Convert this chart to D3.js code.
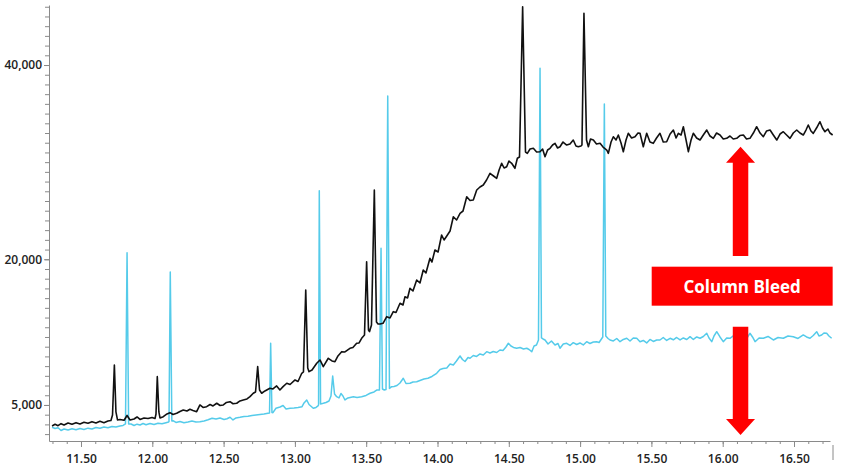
<!DOCTYPE html>
<html>
<head>
<meta charset="utf-8">
<script src="https://cdn.jsdelivr.net/npm/d3@7"></script>
<style>
  body { margin: 0; background: #fff; }
  svg { display: block; font-family: "Open Sans", sans-serif; }
</style>
</head>
<body>
<div id="chart"></div>
<script>
// retention time (min), abundance
const bleedTrace = [
  [11.297,2838],[11.318,3013],[11.339,2869],[11.360,3075],[11.381,2941],[11.409,3147],[11.437,3013],[11.465,3178],[11.493,3044],[11.521,3219],[11.549,3116],[11.577,3281],[11.605,3147],[11.633,3322],[11.661,3178],[11.689,3353],[11.710,3404],
  [11.721,3971],[11.734,9118],[11.745,4279],[11.756,3456],
  [11.773,3507],[11.802,3425],[11.823,3919],[11.844,3456],[11.872,3559],[11.893,3765],[11.914,3507],[11.942,3662],[11.970,3610],[11.998,3713],[12.019,3610],
  [12.026,4074],[12.035,7913],[12.046,4279],[12.054,3662],
  [12.077,3796],[12.103,4074],[12.124,4207],[12.145,4022],[12.171,4146],[12.194,4331],[12.217,4485],[12.243,4382],[12.264,4557],[12.285,4434],[12.311,4310],[12.334,5000],[12.356,4743],[12.381,4825],[12.405,5051],[12.426,4897],[12.452,5175],[12.475,4949],[12.498,5000],[12.520,5257],[12.545,5340],[12.566,5124],[12.592,5175],[12.615,5412],[12.638,5515],[12.664,5618],[12.685,5854],[12.708,6204],
  [12.724,6338],[12.739,8943],[12.752,6544],
  [12.767,6204],[12.790,6441],[12.825,6719],[12.846,6647],[12.872,6956],[12.895,6544],[12.917,6884],[12.943,7234],[12.966,7110],[13.001,7574],[13.022,7419],[13.048,8263],
  [13.060,8397],[13.076,16838],[13.090,8809],
  [13.099,8428],[13.120,8603],[13.153,9293],[13.176,9632],[13.199,8943],[13.234,9807],[13.260,9529],[13.281,9457],[13.302,10044],[13.328,10487],[13.351,10456],[13.386,10837],[13.407,10919],[13.433,11351],[13.450,11382],[13.468,11866],
  [13.488,12206],[13.503,19751],[13.516,12721],[13.523,12546],
  [13.537,13235],[13.557,27132],[13.572,13544],
  [13.583,13338],[13.597,13338],[13.618,13410],[13.644,14090],[13.667,13956],[13.690,14604],[13.709,14522],[13.737,15469],[13.758,15294],[13.772,16148],[13.790,16015],[13.807,17013],[13.828,16735],[13.854,17868],[13.877,17559],[13.900,18897],[13.919,18588],[13.947,20101],[13.961,19720],[13.982,20956],[14.004,20750],[14.029,22500],[14.046,21985],[14.065,22397],[14.088,22912],[14.111,24384],[14.134,24044],[14.158,24733],[14.179,24970],[14.205,26442],[14.228,26051],[14.251,26103],[14.275,27132],[14.298,27441],[14.321,27647],[14.344,28162],[14.368,28851],[14.393,28573],[14.415,28336],[14.432,29191],[14.450,29881],[14.467,29397],[14.485,29531],[14.501,30117],[14.520,29881],[14.543,29366],[14.560,30396],
  [14.575,30529],[14.597,46000],[14.617,31044],
  [14.630,30910],[14.649,31353],[14.672,31425],[14.695,31044],[14.719,31075],[14.737,31353],[14.754,30560],[14.772,31250],[14.789,31425],[14.807,31764],[14.824,31939],[14.842,31456],[14.859,31590],[14.880,32073],[14.906,31764],[14.929,31867],[14.952,32279],[14.971,31662],[14.987,31590],[15.006,31662],
  [15.013,31764],[15.027,45322],[15.045,32279],
  [15.058,31590],[15.073,32382],[15.093,32279],[15.115,31867],[15.140,31939],[15.161,31559],[15.187,31250],[15.198,30910],[15.217,32073],[15.233,32619],[15.252,32279],[15.268,32794],[15.287,31970],[15.303,31075],[15.322,32279],[15.338,32969],[15.361,32485],[15.385,32619],[15.406,33000],[15.420,32969],[15.443,31590],[15.467,32969],[15.490,32073],[15.513,31939],[15.536,32485],[15.560,32969],[15.583,32073],[15.607,32104],[15.631,32897],[15.654,33309],[15.673,32485],[15.689,32969],[15.708,32794],[15.724,33648],[15.743,32279],[15.759,31075],[15.778,32279],[15.794,32969],[15.817,32485],[15.841,32279],[15.864,32794],[15.888,33309],[15.911,32691],[15.934,32454],[15.957,33000],[15.981,32794],[16.004,32382],[16.028,32454],[16.051,32691],[16.074,32382],[16.098,32454],[16.121,32742],[16.145,32794],[16.167,32382],[16.191,32454],[16.215,33000],[16.238,33648],[16.262,33000],[16.285,32619],[16.307,33206],[16.332,33309],[16.355,32794],[16.379,32279],[16.402,32897],[16.425,33134],[16.448,32794],[16.472,32454],[16.495,33000],[16.519,33309],[16.542,33000],[16.565,32794],[16.584,33309],[16.600,33823],[16.619,33206],[16.635,32969],[16.658,33514],[16.682,34163],[16.700,33514],[16.717,33134],[16.738,33411],[16.752,33000],[16.771,32794]
];

const sampleTrace = [
  [11.297,2704],[11.318,2581],[11.339,2653],[11.360,2375],[11.381,2529],[11.409,2426],[11.437,2550],[11.465,2447],[11.493,2581],[11.521,2478],[11.549,2612],[11.577,2529],[11.605,2684],[11.633,2612],[11.661,2735],[11.689,2653],[11.717,2787],[11.745,2735],[11.773,2838],[11.795,2890],
  [11.812,3044],[11.823,20678],[11.834,3044],
  [11.851,3044],[11.872,2890],[11.893,3024],[11.914,2941],[11.935,3096],[11.956,2962],[11.984,3096],[12.012,2993],[12.040,3126],[12.068,3065],[12.096,3178],[12.114,3250],
  [12.117,3301],[12.126,18691],[12.137,3353],
  [12.145,3384],[12.166,3199],[12.194,3301],[12.222,3168],[12.250,3250],[12.278,3353],[12.306,3250],[12.334,3281],[12.363,3353],[12.391,3476],[12.419,3631],[12.447,3559],[12.475,3662],[12.503,3507],[12.524,3579],[12.545,3734],[12.566,3456],[12.587,3662],[12.615,3734],[12.643,3816],[12.671,3847],[12.699,3919],[12.727,3971],[12.755,4022],[12.783,4074],[12.811,4146],
  [12.822,4176],[12.830,11351],[12.839,4228],
  [12.846,4207],[12.867,4660],[12.896,4794],[12.917,4949],[12.938,4588],[12.966,4660],[12.994,4691],[13.022,4743],[13.050,4825],[13.064,5206],[13.083,5515],[13.099,5051],[13.129,4660],[13.148,4743],[13.162,4897],
  [13.166,5000],[13.171,27060],[13.180,5103],
  [13.199,5175],[13.218,5257],[13.239,5412],[13.253,5926],[13.265,7985],[13.278,6132],[13.293,5854],[13.309,5721],[13.323,6184],[13.337,5926],[13.351,5515],[13.372,5721],[13.410,5854],[13.436,5772],[13.468,5854],[13.499,5978],[13.527,6204],[13.555,6338],[13.576,6544],
  [13.593,6544],[13.604,21131],[13.614,6647],[13.627,6544],
  [13.639,6596],[13.651,36808],[13.663,6699],[13.679,6884],
  [13.695,6904],[13.716,7007],[13.737,7265],[13.760,7748],[13.779,7213],[13.807,7234],[13.828,7368],[13.854,7398],[13.877,7522],[13.905,7676],[13.933,7748],[13.961,7934],[13.994,8263],[14.018,8654],[14.039,8757],[14.065,8809],[14.088,9221],[14.111,9118],[14.133,9529],[14.158,10044],[14.175,9684],[14.193,9478],[14.214,9890],[14.228,9807],[14.251,10096],[14.274,9993],[14.298,10250],[14.321,10147],[14.345,10487],[14.368,10353],[14.391,10507],[14.415,10404],[14.438,10662],[14.459,10610],[14.480,10971],[14.497,11351],[14.515,11073],[14.533,10919],[14.555,10837],[14.579,10919],[14.603,10765],[14.626,10837],[14.642,10713],[14.661,10487],[14.677,11073],[14.694,11176],
  [14.708,11691],[14.719,39660],[14.729,11897],
  [14.740,11794],[14.754,11691],[14.775,11279],[14.799,11588],[14.824,11176],[14.845,11331],[14.859,10837],[14.882,11279],[14.906,11351],[14.929,11125],[14.952,11413],[14.976,11228],[14.999,11382],[15.022,11176],[15.046,11516],[15.069,11331],[15.093,11485],[15.116,11516],[15.133,11434],
  [15.159,12000],[15.170,35985],[15.180,12103],
  [15.196,11845],[15.210,11691],[15.233,11588],[15.257,11845],[15.280,11516],[15.303,11743],[15.327,11866],[15.350,11588],[15.373,11897],[15.397,11866],[15.420,11516],[15.443,11640],[15.467,11382],[15.490,11743],[15.513,11537],[15.537,11691],[15.560,11691],[15.583,11948],[15.607,11640],[15.631,11866],[15.654,11711],[15.677,11948],[15.701,11691],[15.724,11897],[15.748,11743],[15.771,12031],[15.794,11743],[15.818,12000],[15.841,11866],[15.864,12051],[15.888,12381],[15.904,11897],[15.923,11516],[15.939,12103],[15.958,12545],[15.981,12000],[16.004,11516],[16.028,11897],[16.051,11866],[16.074,12103],[16.098,11691],[16.121,11845],[16.145,12031],[16.168,11845],[16.191,12381],[16.209,12000],[16.227,11516],[16.255,11897],[16.285,11866],[16.318,12051],[16.355,11691],[16.388,11948],[16.425,11866],[16.458,12103],[16.495,12031],[16.528,11845],[16.565,12206],[16.588,12000],[16.612,11866],[16.635,12154],[16.659,12545],[16.675,12103],[16.694,12206],[16.710,12412],[16.729,12381],[16.745,12103],[16.764,11866]
];

const xLabelTicks = [11.5, 12.0, 12.5, 13.0, 13.5, 14.0, 14.5, 15.0, 15.5, 16.0, 16.5];
const xMinorTicks = d3.range(113, 168).map(k => k / 10);
const yLabelTicks = [5000, 20000, 40000];
const yMinorTicks = d3.range(2, 47).map(k => k * 1000);

// annotation, in data units
const bleedLabel = "Column Bleed";
const arrowTime = 16.125;

const width = 844, height = 471;
const margin = { top: 5, right: 14, bottom: 30, left: 49 };

const svg = d3.select("#chart")
  .append("svg")
  .attr("width", width)
  .attr("height", height);

const x = d3.scaleLinear()
  .domain([11.2756, 16.7524])
  .range([margin.left, width - margin.right]);

const y = d3.scaleLinear()
  .domain([1290, 46180])
  .range([height - margin.bottom, margin.top]);

const line = d3.line()
  .x(d => x(d[0]))
  .y(d => y(d[1]));

// x axis: minor ticks, then labelled ticks
svg.append("g")
  .attr("transform", `translate(0,${y(1290)})`)
  .call(d3.axisBottom(x).tickValues(xMinorTicks).tickSize(3).tickSizeOuter(0).tickFormat(""))
  .call(g => g.select(".domain").attr("stroke", "#8a8a8a"))
  .call(g => g.selectAll(".tick line").attr("stroke", "#8a8a8a"));

svg.append("g")
  .attr("transform", `translate(0,${y(1290)})`)
  .call(d3.axisBottom(x).tickValues(xLabelTicks).tickSize(6).tickSizeOuter(0).tickPadding(7).tickFormat(d3.format(".2f")))
  .call(g => g.select(".domain").remove())
  .call(g => g.selectAll(".tick line").attr("stroke", "#8a8a8a"))
  .call(g => g.selectAll("text")
    .attr("fill", "#222")
    .style("font-size", "12px")
    .style("font-weight", "600")
    .style("font-family", "'Open Sans', sans-serif"));

// y axis
svg.append("g")
  .attr("transform", `translate(${margin.left},0)`)
  .call(d3.axisLeft(y).tickValues(yMinorTicks).tickSize(4).tickSizeOuter(0).tickFormat(""))
  .call(g => g.select(".domain").attr("stroke", "#8a8a8a"))
  .call(g => g.selectAll(".tick line").attr("stroke", "#8a8a8a"));

svg.append("g")
  .attr("transform", `translate(${margin.left},0)`)
  .call(d3.axisLeft(y).tickValues(yLabelTicks).tickSize(5).tickSizeOuter(0).tickPadding(2).tickFormat(d3.format(",")))
  .call(g => g.select(".domain").remove())
  .call(g => g.selectAll(".tick line").attr("stroke", "#8a8a8a"))
  .call(g => g.selectAll("text")
    .attr("fill", "#222")
    .style("font-size", "12px")
    .style("font-weight", "600")
    .style("font-family", "'Open Sans', sans-serif"));

// small frame stub at the right end of the x axis
svg.append("line")
  .attr("x1", width - 11).attr("x2", width - 11)
  .attr("y1", y(1290) + 4).attr("y2", y(1290) + 19)
  .attr("stroke", "#8a8a8a");

// traces
svg.append("path")
  .datum(sampleTrace)
  .attr("fill", "none")
  .attr("stroke", "#55cbea")
  .attr("stroke-width", 1.5)
  .attr("stroke-linejoin", "round")
  .attr("d", line);

svg.append("path")
  .datum(bleedTrace)
  .attr("fill", "none")
  .attr("stroke", "#111")
  .attr("stroke-width", 1.6)
  .attr("stroke-linejoin", "round")
  .attr("d", line);

// Column Bleed annotation
const ax = x(arrowTime);
const shaftW = 15.5, headW = 29, headH = 16;
const red = "#ff0000";

function arrow(tipY, baseY) {
  const dir = Math.sign(baseY - tipY);
  const headBase = tipY + dir * headH;
  return [
    [ax, tipY],
    [ax + headW / 2, headBase],
    [ax + shaftW / 2, headBase],
    [ax + shaftW / 2, baseY],
    [ax - shaftW / 2, baseY],
    [ax - shaftW / 2, headBase],
    [ax - headW / 2, headBase]
  ];
}

svg.append("polygon")
  .attr("points", arrow(y(31580), y(20338)).join(" "))
  .attr("fill", red);

svg.append("polygon")
  .attr("points", arrow(y(1912), y(13060)).join(" "))
  .attr("fill", red);

const boxX0 = x(15.502), boxX1 = x(16.771);
const boxY0 = y(19237), boxY1 = y(15222);

svg.append("rect")
  .attr("x", boxX0)
  .attr("y", boxY0)
  .attr("width", boxX1 - boxX0)
  .attr("height", boxY1 - boxY0)
  .attr("fill", red);

svg.append("text")
  .attr("x", (boxX0 + boxX1) / 2)
  .attr("y", (boxY0 + boxY1) / 2)
  .attr("text-anchor", "middle")
  .attr("dominant-baseline", "central")
  .attr("fill", "#fff")
  .style("font-size", "17px")
  .style("font-weight", "700")
  .text(bleedLabel);
</script>
</body>
</html>
